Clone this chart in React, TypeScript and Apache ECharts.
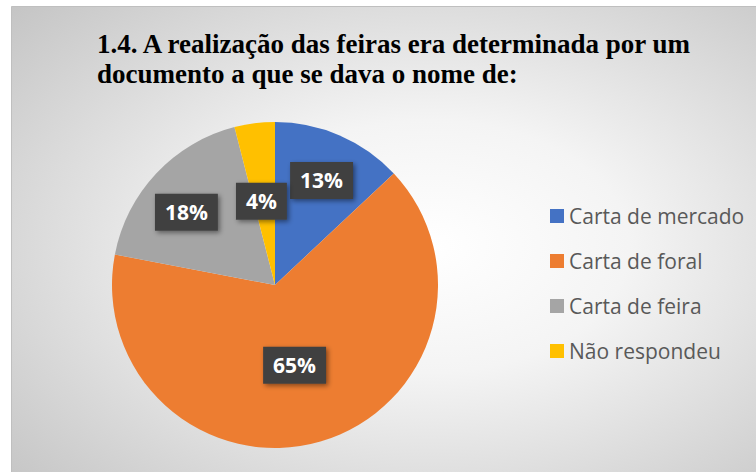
import React, { useEffect, useRef } from "react";
import * as echarts from "echarts";

const titleText = "1.4. A realização das feiras era determinada por um\ndocumento a que se dava o nome de:";
const categories = ["Carta de mercado", "Carta de foral", "Carta de feira", "Não respondeu"];
const values = [13, 65, 18, 4];
const colors = ["#4472C4", "#ED7D31", "#A5A5A5", "#FFC000"];
const labelOffsets: number[][] = [[13, -27], [-4, -1], [-27, -15], [-3, 0]];

export default function App() {
  const ref = useRef<HTMLDivElement>(null);
  useEffect(() => {
    if (!ref.current) return;
    const chart = echarts.init(ref.current, null, { renderer: "svg" });
    const total = values.reduce((a, b) => a + b, 0);
    chart.setOption({
      animation: false,
      backgroundColor: "#ffffff",
      graphic: [
        {
          type: "rect",
          z: -10,
          silent: true,
          shape: { x: 11.5, y: 6.5, width: 760, height: 480 },
          style: {
            fill: {
              type: "radial",
              x: 0.55,
              y: 0.5,
              r: 0.75,
              colorStops: [
                { offset: 0, color: "#ffffff" },
                { offset: 0.35, color: "#f4f4f4" },
                { offset: 1, color: "#c4c4c4" },
              ],
            },
            stroke: "#bfbfbf",
            lineWidth: 1,
          },
        },
      ],
      title: {
        text: titleText,
        left: 97,
        top: 29,
        padding: 0,
        textStyle: {
          fontFamily: "serif",
          fontWeight: "bold",
          fontSize: 27,
          lineHeight: 30,
          color: "#000000",
        },
      },
      legend: {
        orient: "vertical",
        left: 550,
        top: 205,
        padding: 0,
        itemWidth: 14,
        itemHeight: 14,
        itemGap: 23,
        icon: "rect",
        data: categories,
        textStyle: {
          fontFamily: "Open Sans",
          fontSize: 21,
          lineHeight: 22,
          color: "#595959",
        },
      },
      series: [
        {
          type: "pie",
          center: [275, 285],
          radius: [0, 163],
          startAngle: 90,
          clockwise: true,
          color: colors,
          itemStyle: { borderWidth: 0 },
          labelLine: { show: false },
          label: {
            show: true,
            position: "inside",
            formatter: (p: any) => Math.round((p.value / total) * 100) + "%",
            fontFamily: "Open Sans",
            fontWeight: "bold",
            fontSize: 21,
            color: "#ffffff",
            backgroundColor: "#404040",
            padding: [8, 10, 8, 10],
            shadowColor: "rgba(0,0,0,0.45)",
            shadowBlur: 5,
            shadowOffsetX: 2,
            shadowOffsetY: 2,
          },
          data: categories.map((name, i) => ({
            name,
            value: values[i],
            label: { offset: labelOffsets[i] },
          })),
        },
      ],
    });
    return () => chart.dispose();
  }, []);
  return (
    <div
      ref={ref}
      style={{ position: "absolute", left: 0, top: 0, width: 756, height: 472 }}
    />
  );
}
